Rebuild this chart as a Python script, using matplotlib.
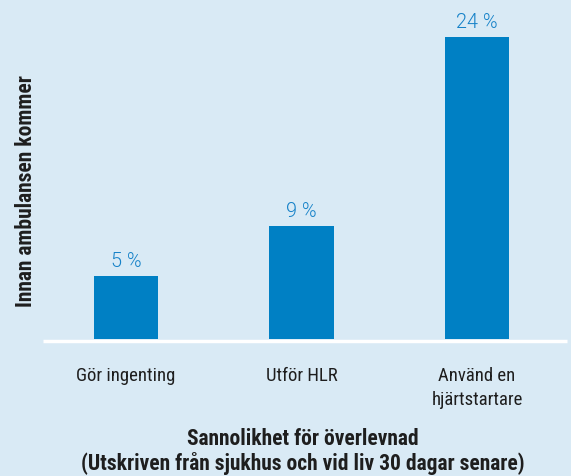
import matplotlib
matplotlib.use('Agg')
import matplotlib.pyplot as plt
from matplotlib.transforms import ScaledTranslation

categories = ["Gör ingenting", "Utför HLR", "Använd en\nhjärtstartare"]
values = [5, 9, 24]
value_labels = ["5 %", "9 %", "24 %"]
y_title = "Innan ambulansen kommer"
x_title_lines = ["Sannolikhet för överlevnad",
                 "(Utskriven från sjukhus och vid liv 30 dagar senare)"]

BG = "#d9eaf5"
BAR = "#0080c4"
VAL = "#1682c8"
TXT = "#1e1e1e"
COND = "Roboto Condensed"

fig = plt.figure(figsize=(5.71, 4.77), dpi=100, facecolor=BG)
ax = fig.add_axes([43/571, 137/477, 524/571, 340/477])
ax.set_facecolor(BG)

x = list(range(len(categories)))
bars = ax.bar(x, values, width=0.365, color=BAR, zorder=2)
ax.set_xlim(-0.473, 2.513)
ax.set_ylim(0, 27.0)

for b, lab in zip(bars, value_labels):
    ax.annotate(lab, (b.get_x() + b.get_width()/2, b.get_height()),
                xytext=(0, 7.3), textcoords='offset points',
                ha='center', va='baseline', color=VAL,
                fontsize=14.3, fontfamily='Roboto', fontweight=300)

for s in ax.spines.values():
    s.set_visible(False)
ax.set_yticks([])
ax.set_xticks(x)
ax.set_xticklabels(categories, fontfamily=COND, fontsize=13.5, color=TXT,
                   linespacing=1.45)
ax.tick_params(axis='x', length=0, pad=19.5)

trans = ax.get_yaxis_transform() + ScaledTranslation(0, -1.7/100, fig.dpi_scale_trans)
ax.plot([0, 1], [0, 0], transform=trans, color='white', lw=2.5,
        solid_capstyle='butt', clip_on=False, zorder=1)

fig.text(26/571, 1 - 191.5/477, y_title, rotation=90, ha='center', va='center',
         fontfamily=COND, fontweight='bold', fontsize=15.5, color=TXT)
for line, ypix in zip(x_title_lines, [445.5, 470]):
    fig.text(303/571, 1 - ypix/477, line, ha='center', va='baseline',
             fontfamily=COND, fontweight='bold', fontsize=15.5, color=TXT)

fig.savefig('out.png', dpi=100, facecolor=BG)
